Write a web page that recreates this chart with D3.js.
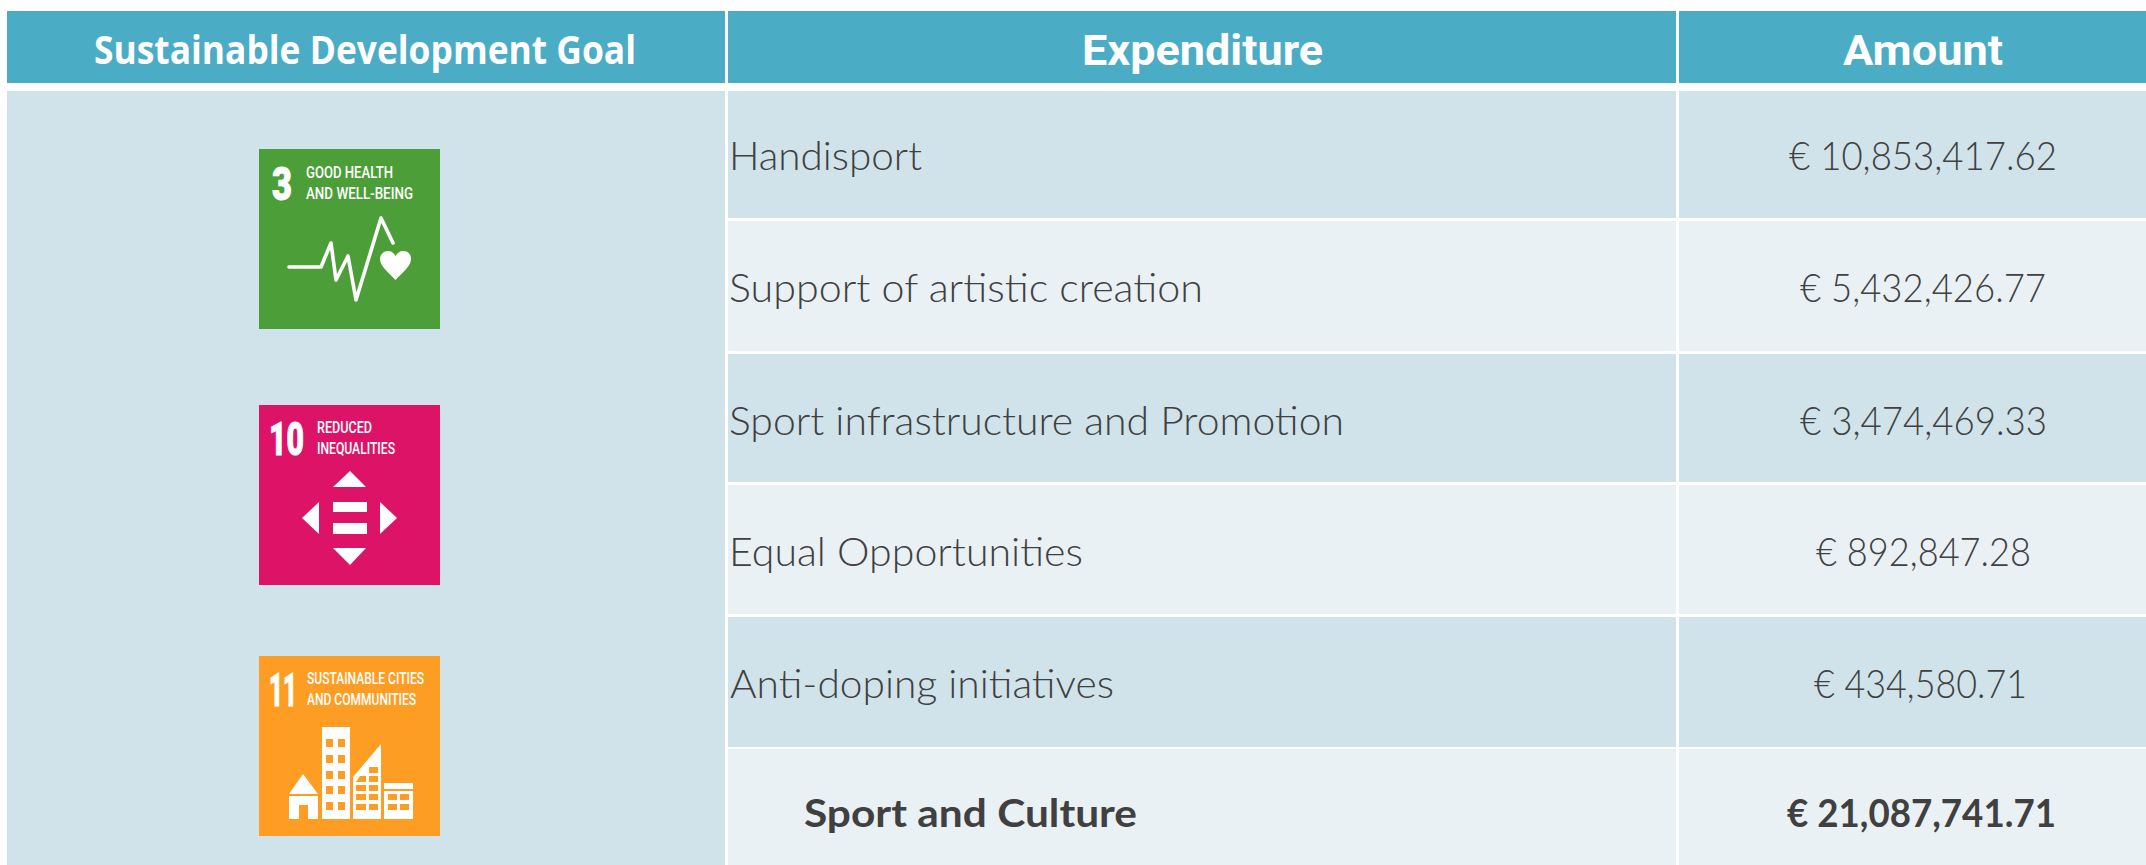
<!DOCTYPE html>
<html><head><meta charset="utf-8">
<style>html,body{margin:0;padding:0;background:#fff;overflow:hidden}svg{display:block}</style>
<script src="https://cdn.jsdelivr.net/npm/d3@7/dist/d3.min.js"></script>
</head><body><div id="c"></div>
<script>
// ---- data ----
const headers = ["Sustainable Development Goal", "Expenditure", "Amount"];
const expenditures = ["Handisport", "Support of artistic creation", "Sport infrastructure and Promotion", "Equal Opportunities", "Anti-doping initiatives", "Sport and Culture"];
const amounts = [10853417.62, 5432426.77, 3474469.33, 892847.28, 434580.71, 21087741.71];
const totalRow = "Sport and Culture";
const goals = [
  {n:"3", lines:["GOOD HEALTH","AND WELL-BEING"], color:"#4C9F38"},
  {n:"10", lines:["REDUCED","INEQUALITIES"], color:"#DD1367"},
  {n:"11", lines:["SUSTAINABLE CITIES","AND COMMUNITIES"], color:"#FD9D24"}
];

// ---- layout (pixels, separate from the data) ----
const W = 2146, H = 865;
const HEAD = "#4BACC6", DARK = "#D0E3EA", LIGHT = "#E9F1F5", INK = "#404040";
const colEdges = [7, 725, 728, 1676, 1679, 2146];
const rowTops = [91, 221, 354, 485, 617, 749];
const rowBottoms = [218, 351, 482, 614, 747, 865];
const baselines = [170, 302, 435, 566, 698, 827];
const labelBox = [[729,193],[729,474],[729,615],[729,354],[730,384],[804,333]];
const amountBox = [[1789,268],[1800,246],[1800,247],[1816,215],[1814,213],[1787,269]];
const headBox = [[94,542],[1082,241],[1843,160]];
const headBase = [64, 65, 65];
const iconTops = [149, 405, 656];
const iconX = 259, iconW = 181, iconH = 180;
const sans = "Lato, 'Open Sans', sans-serif";

const y = d3.scaleOrdinal().domain(expenditures).range(rowTops);
const yEnd = d3.scaleOrdinal().domain(expenditures).range(rowBottoms);
const fmt = d3.format(",.2f");

const svg = d3.select("#c").append("svg").attr("width", W).attr("height", H).attr("viewBox", `0 0 ${W} ${H}`);
svg.append("rect").attr("width", W).attr("height", H).attr("fill", "#fff");

// header band
[[colEdges[0], colEdges[1]], [colEdges[2], colEdges[3]], [colEdges[4], colEdges[5]]].forEach(([a, b]) =>
  svg.append("rect").attr("x", a).attr("y", 11).attr("width", b - a).attr("height", 72).attr("fill", HEAD));
const headFonts = ["'Open Sans'", "Roboto", "Roboto"];
const headSize = [39, 42, 42];
svg.selectAll("text.h").data(headers).join("text").attr("class", "h")
  .attr("x", (d, i) => headBox[i][0]).attr("y", (d, i) => headBase[i])
  .attr("textLength", (d, i) => headBox[i][1]).attr("lengthAdjust", "spacingAndGlyphs")
  .attr("font-family", (d, i) => headFonts[i]).attr("font-weight", 700)
  .attr("font-size", (d, i) => headSize[i]).attr("fill", "#fff").text(d => d);

// goal column
svg.append("rect").attr("x", colEdges[0]).attr("y", 91).attr("width", colEdges[1] - colEdges[0]).attr("height", H - 91).attr("fill", DARK);

// rows
const rows = svg.selectAll("g.row").data(expenditures).join("g").attr("class", "row");
rows.append("rect").attr("x", colEdges[2]).attr("y", d => y(d)).attr("width", colEdges[3] - colEdges[2])
  .attr("height", d => yEnd(d) - y(d)).attr("fill", (d, i) => i % 2 ? LIGHT : DARK);
rows.append("rect").attr("x", colEdges[4]).attr("y", d => y(d)).attr("width", colEdges[5] - colEdges[4])
  .attr("height", d => yEnd(d) - y(d)).attr("fill", (d, i) => i % 2 ? LIGHT : DARK);
rows.append("text").attr("x", (d, i) => labelBox[i][0]).attr("y", (d, i) => baselines[i])
  .attr("textLength", (d, i) => labelBox[i][1]).attr("lengthAdjust", "spacingAndGlyphs")
  .attr("font-family", sans).attr("font-weight", d => d === totalRow ? 700 : 300).attr("font-size", 39)
  .attr("fill", INK).text(d => d);
rows.append("text").attr("x", (d, i) => amountBox[i][0]).attr("y", (d, i) => baselines[i])
  .attr("textLength", (d, i) => amountBox[i][1]).attr("lengthAdjust", "spacingAndGlyphs")
  .attr("font-family", sans).attr("font-weight", d => d === totalRow ? 700 : 300).attr("font-size", 39)
  .attr("fill", INK).text((d, i) => "€ " + fmt(amounts[i]));

// goal icons
const numBox = [[13,20,51],[10,35,50],[10,28,50]];
const lineBox = [[[47,87,29],[47,107,50]],[[58,55,28],[58,78,49]],[[48,117,28],[48,109,49]]];
const icons = svg.selectAll("g.icon").data(goals).join("g").attr("class", "icon")
  .attr("transform", (d, i) => `translate(${iconX},${iconTops[i]})`);
icons.append("rect").attr("width", iconW).attr("height", iconH).attr("fill", d => d.color);
icons.append("text")
  .attr("font-family", "Roboto").attr("font-weight", 900).attr("font-size", 47)
  .attr("stroke", "#fff").attr("stroke-width", 1).attr("fill", "#fff").text(d => d.n)
  .attr("transform", function (d, i) {
    const natural = this.getComputedTextLength();
    return `translate(${numBox[i][0]},${numBox[i][2]}) scale(${numBox[i][1] / natural},1)`;
  });
icons.each(function (d, i) {
  d3.select(this).selectAll("text.t").data(d.lines).join("text").attr("class", "t")
    .attr("x", (l, j) => lineBox[i][j][0]).attr("y", (l, j) => lineBox[i][j][2])
    .attr("textLength", (l, j) => lineBox[i][j][1]).attr("lengthAdjust", "spacingAndGlyphs")
    .attr("font-family", "Roboto").attr("font-weight", 500).attr("font-size", 17).attr("fill", "#fff").text(l => l);
});
// glyphs in icon-local units
const g3 = icons.filter((d, i) => i === 0), g10 = icons.filter((d, i) => i === 1), g11 = icons.filter((d, i) => i === 2);
g3.append("path").attr("d", d3.line()([[30,118],[62,118],[72,94],[77,131],[89,107],[97,151],[122,69],[134,94]]))
  .attr("fill", "none").attr("stroke", "#fff").attr("stroke-width", 3.6).attr("stroke-linejoin", "round").attr("stroke-linecap", "round");
g3.append("path").attr("fill", "#fff")
  .attr("d", "M136.5,131 C128,122 121,117 121,110 C121,105 125,102 129,102 C132.5,102 135,104 136.5,107 C138,104 141,102 144,102 C149,102 152,105 152,110 C152,117 145,122 136.5,131Z");
const poly = (g, pts, fill = "#fff") => g.append("polygon").attr("points", pts.join(" ")).attr("fill", fill);
const box = (g, x0, y0, x1, y1, fill = "#fff") => g.append("rect").attr("x", x0).attr("y", y0).attr("width", x1 - x0).attr("height", y1 - y0).attr("fill", fill);
poly(g10, [[91,66],[107,82],[74,82]]);
poly(g10, [[60,97],[60,129],[43,113]]);
poly(g10, [[121,97],[121,129],[138,113]]);
poly(g10, [[74,143],[107,143],[91,160]]);
box(g10, 74, 97, 108, 107); box(g10, 74, 118, 108, 129);
const OR = goals[2].color;
poly(g11, [[44,118],[59,138],[30,138]]);
box(g11, 30, 140, 59, 163); box(g11, 40, 149, 49, 163, OR);
box(g11, 63, 71, 91, 163);
[[83,91],[99,107],[115,123],[130,138],[146,154]].forEach(([a, b]) => { box(g11, 67, a, 74, b, OR); box(g11, 79, a, 86, b, OR); });
poly(g11, [[94,163],[94,121],[122,88],[122,163]]);
[[129,135],[138,144],[148,154]].forEach(([a, b]) => { box(g11, 97, a, 107, b, OR); box(g11, 110, a, 119, b, OR); });
box(g11, 110, 120, 119, 126, OR); box(g11, 110, 111, 119, 117, OR);
poly(g11, [[101,120],[107,120],[107,126],[97,126]], OR);
box(g11, 125, 127, 154, 133); box(g11, 125, 135, 154, 163);
[[138,144],[148,154]].forEach(([a, b]) => { box(g11, 129, a, 138, b, OR); box(g11, 141, a, 150, b, OR); });
</script></body></html>
